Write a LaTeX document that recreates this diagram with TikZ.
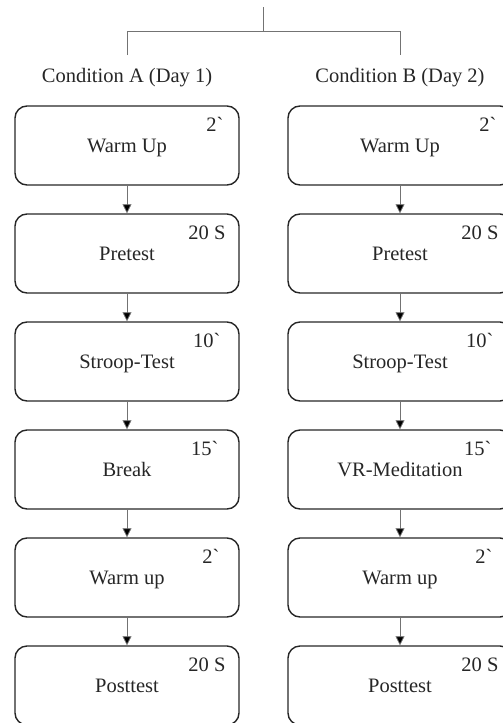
\documentclass[tikz,border=0pt]{standalone}
\usepackage{fontspec}
\setmainfont{Liberation Serif}
\newfontfamily\gravefont{Liberation Serif}[Ligatures=ResetAll]
\usetikzlibrary{arrows.meta}
\newcommand{\bt}{{\gravefont\char"60}}
\tikzset{
  stepbox/.style={draw=black!85, line width=1.4pt, rounded corners=12pt, minimum width=224pt, minimum height=79pt, inner sep=0pt},
  lbl/.style={font=\fontsize{20.5}{23}\selectfont, inner sep=0pt, text=black!85},
  flow/.style={draw=black!55, line width=0.8pt, -{Triangle[width=9pt,length=9pt,fill=black]}},
  tree/.style={draw=black!55, line width=1pt}
}
\begin{document}
\begin{tikzpicture}[x=1pt,y=-1pt]
\useasboundingbox (0,0) rectangle (503,723);
\clip (0,0) rectangle (503,723);
% tree
\coordinate (top) at (263,7);
\coordinate (mid) at (263,31);
\coordinate (la) at (127,31);
\coordinate (ra) at (400,31);
\coordinate (lb) at (127,55);
\coordinate (rb) at (400,55);
\draw[tree] (top) -- (mid);
\draw[tree] (lb) -- (la) -- (ra) -- (rb);
\node[lbl, anchor=base] (ca) at (127,82) {Condition A (Day 1)};
\node[lbl, anchor=base] (cb) at (400,82) {Condition B (Day 2)};
% boxes
\foreach \i/\ta/\tb/\d/\r in {1/Warm Up/Warm Up/2\bt/16, 2/Pretest/Pretest/20 S/14, 3/Stroop-Test/Stroop-Test/10\bt/19, 4/Break/VR-Meditation/15\bt/21, 5/Warm up/Warm up/2\bt/20, 6/Posttest/Posttest/20 S/14}{
  \pgfmathsetmacro{\yc}{145.5+108*(\i-1)}
  \node[stepbox] (a\i) at (127,\yc) {};
  \node[stepbox] (b\i) at (400,\yc) {};
  \node[lbl, anchor=base] (ta\i) at ([yshift=-7pt]a\i.center) {\ta};
  \node[lbl, anchor=base] (tb\i) at ([yshift=-7pt]b\i.center) {\tb};
  \node[lbl, anchor=base east] (da\i) at ([xshift=-\r pt, yshift=-26pt]a\i.north east) {\d};
  \node[lbl, anchor=base east] (db\i) at ([xshift=-\r pt, yshift=-26pt]b\i.north east) {\d};
}
\foreach \i [evaluate=\i as \j using int(\i+1)] in {1,...,5}{
  \draw[flow] (a\i.south) -- (a\j.north);
  \draw[flow] (b\i.south) -- (b\j.north);
}
\end{tikzpicture}
\end{document}
